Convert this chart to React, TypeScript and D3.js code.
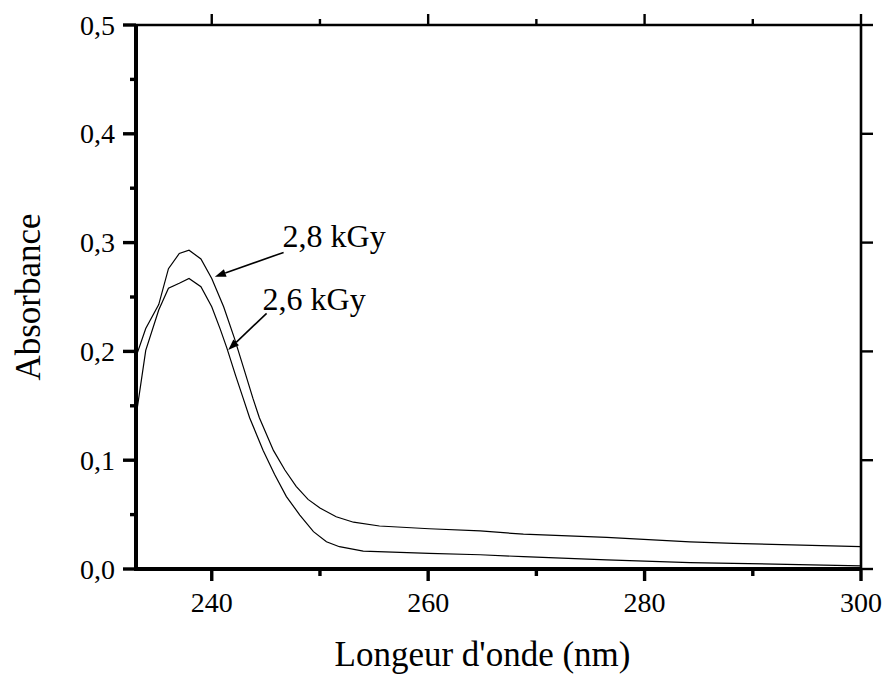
import React from "react";
import * as d3 from "d3";

// Wavelength (nm) and absorbance for each dose
const wl28 = [233.0, 233.9, 235.1, 236.0, 237.0, 237.9, 239.0, 240.0, 241.1, 242.1, 243.0, 243.8, 244.4, 245.7, 246.76, 247.8, 248.9, 250.0, 251.5, 253.1, 255.5, 260.1, 264.8, 268.8, 276.5, 284.2, 288.2, 300.0];
const abs28 = [0.195, 0.221, 0.243, 0.276, 0.29, 0.293, 0.285, 0.267, 0.241, 0.212, 0.183, 0.157, 0.139, 0.109, 0.091, 0.076, 0.064, 0.056, 0.048, 0.043, 0.0395, 0.037, 0.035, 0.032, 0.029, 0.025, 0.0236, 0.0205];

const wl26 = [233.0, 233.9, 235.1, 236.0, 237.0, 237.9, 239.0, 240.0, 240.8, 241.4, 242.2, 242.9, 243.5, 244.75, 245.8, 246.9, 248.14, 249.4, 250.6, 251.8, 254.0, 260.1, 264.8, 268.8, 276.5, 284.2, 288.2, 300.0];
const abs26 = [0.14, 0.201, 0.238, 0.258, 0.2626, 0.267, 0.2595, 0.241, 0.22, 0.203, 0.178, 0.157, 0.139, 0.109, 0.087, 0.0665, 0.0496, 0.0343, 0.0251, 0.0205, 0.0165, 0.0144, 0.0131, 0.0113, 0.0083, 0.0058, 0.0052, 0.0028];

const xMajor = [240, 260, 280, 300];
const xMinor = [250, 270, 290];
const yMajor = [0, 0.1, 0.2, 0.3, 0.4, 0.5];
const yMinor = [0.05, 0.15, 0.25, 0.35, 0.45];
const yLabels = ["0,0", "0,1", "0,2", "0,3", "0,4", "0,5"];

// annotation labels with text, arrow tail and arrow head positions in data units
const annLabels = ["2,8 kGy", "2,6 kGy"];
const annText = [[246.55, 0.296], [244.7, 0.238]];
const annTail = [[246.64, 0.291], [245.07, 0.235]];
const annHead = [[240.29, 0.2687], [241.52, 0.2013]];

const W = 887;
const H = 674;
const FONT = "'Liberation Serif', 'Times New Roman', serif";

export default function App() {
  const x = d3.scaleLinear().domain([233, 300]).range([136, 861]);
  const y = d3.scaleLinear().domain([0, 0.5]).range([569, 25]);
  const line = d3
    .line<[number, number]>()
    .x((d) => x(d[0]))
    .y((d) => y(d[1]))
    .curve(d3.curveLinear);
  const s28 = wl28.map((w, i) => [w, abs28[i]] as [number, number]);
  const s26 = wl26.map((w, i) => [w, abs26[i]] as [number, number]);

  const x0 = x.range()[0];
  const x1 = x.range()[1];
  const y0 = y.range()[0];
  const y1 = y.range()[1];

  const arrows = annLabels.map((lab, i) => {
    const tx = x(annTail[i][0]);
    const ty = y(annTail[i][1]);
    const hx = x(annHead[i][0]);
    const hy = y(annHead[i][1]);
    const ang = Math.atan2(hy - ty, hx - tx);
    const L = 11;
    const Wd = 4;
    const bx = hx - L * Math.cos(ang);
    const by = hy - L * Math.sin(ang);
    const px = -Math.sin(ang) * Wd;
    const py = Math.cos(ang) * Wd;
    return (
      <g key={lab}>
        <line x1={tx} y1={ty} x2={bx} y2={by} stroke="#000" strokeWidth={1.6} />
        <polygon points={`${hx},${hy} ${bx + px},${by + py} ${bx - px},${by - py}`} fill="#000" />
        <text x={x(annText[i][0])} y={y(annText[i][1])} fontFamily={FONT} fontSize={32} fill="#000">
          {lab}
        </text>
      </g>
    );
  });

  return (
    <svg width={W} height={H} style={{ position: "absolute", left: 0, top: 0, background: "#fff" }}>
      <defs>
        <clipPath id="plotclip">
          <rect x={x0} y={y1} width={x1 - x0} height={y0 - y1} />
        </clipPath>
      </defs>
      <rect x={0} y={0} width={W} height={H} fill="#fff" />
      <g clipPath="url(#plotclip)" fill="none" stroke="#000" strokeWidth={1.2}>
        <path d={line(s28) || ""} />
        <path d={line(s26) || ""} />
      </g>
      {arrows}
      {/* top axis */}
      <line x1={x0} y1={y1} x2={x1} y2={y1} stroke="#000" strokeWidth={2.6} />
      {xMajor.map((v) => (
        <line key={"tM" + v} x1={x(v)} x2={x(v)} y1={y1} y2={y1 - 11} stroke="#000" strokeWidth={2.4} />
      ))}
      {xMinor.map((v) => (
        <line key={"tm" + v} x1={x(v)} x2={x(v)} y1={y1} y2={y1 - 6} stroke="#000" strokeWidth={2.4} />
      ))}
      {/* right axis */}
      <line x1={x1} y1={y0} x2={x1} y2={y1} stroke="#000" strokeWidth={2.6} />
      {yMajor.map((v) => (
        <line key={"rM" + v} x1={x1} x2={x1 + 12} y1={y(v)} y2={y(v)} stroke="#000" strokeWidth={2.4} />
      ))}
      {/* bottom axis */}
      <line x1={x0} y1={y0} x2={x1} y2={y0} stroke="#000" strokeWidth={4} />
      {xMajor.map((v) => (
        <line key={"bM" + v} x1={x(v)} x2={x(v)} y1={y0} y2={y0 + 12} stroke="#000" strokeWidth={3.4} />
      ))}
      {xMinor.map((v) => (
        <line key={"bm" + v} x1={x(v)} x2={x(v)} y1={y0} y2={y0 + 7} stroke="#000" strokeWidth={3.4} />
      ))}
      {xMajor.map((v) => (
        <text key={"bl" + v} x={x(v)} y={y0 + 43} textAnchor="middle" fontFamily={FONT} fontSize={28} fill="#000">
          {String(v)}
        </text>
      ))}
      {/* left axis */}
      <line x1={x0} y1={y0 + 2} x2={x0} y2={y1} stroke="#000" strokeWidth={4} />
      {yMajor.map((v) => (
        <line key={"lM" + v} x1={x0 - 13} x2={x0} y1={y(v)} y2={y(v)} stroke="#000" strokeWidth={3.4} />
      ))}
      {yMinor.map((v) => (
        <line key={"lm" + v} x1={x0 - 6} x2={x0} y1={y(v)} y2={y(v)} stroke="#000" strokeWidth={3.4} />
      ))}
      {yMajor.map((v, i) => (
        <text key={"ll" + v} x={x0 - 21} y={y(v) + 9.5} textAnchor="end" fontFamily={FONT} fontSize={28} fill="#000">
          {yLabels[i]}
        </text>
      ))}
      {/* titles */}
      <text x={482.5} y={666} textAnchor="middle" fontFamily={FONT} fontSize={35} fill="#000">
        Longeur d'onde (nm)
      </text>
      <text
        transform={`translate(40, ${(y0 + y1) / 2}) rotate(-90)`}
        textAnchor="middle"
        fontFamily={FONT}
        fontSize={35}
        fill="#000"
      >
        Absorbance
      </text>
    </svg>
  );
}
